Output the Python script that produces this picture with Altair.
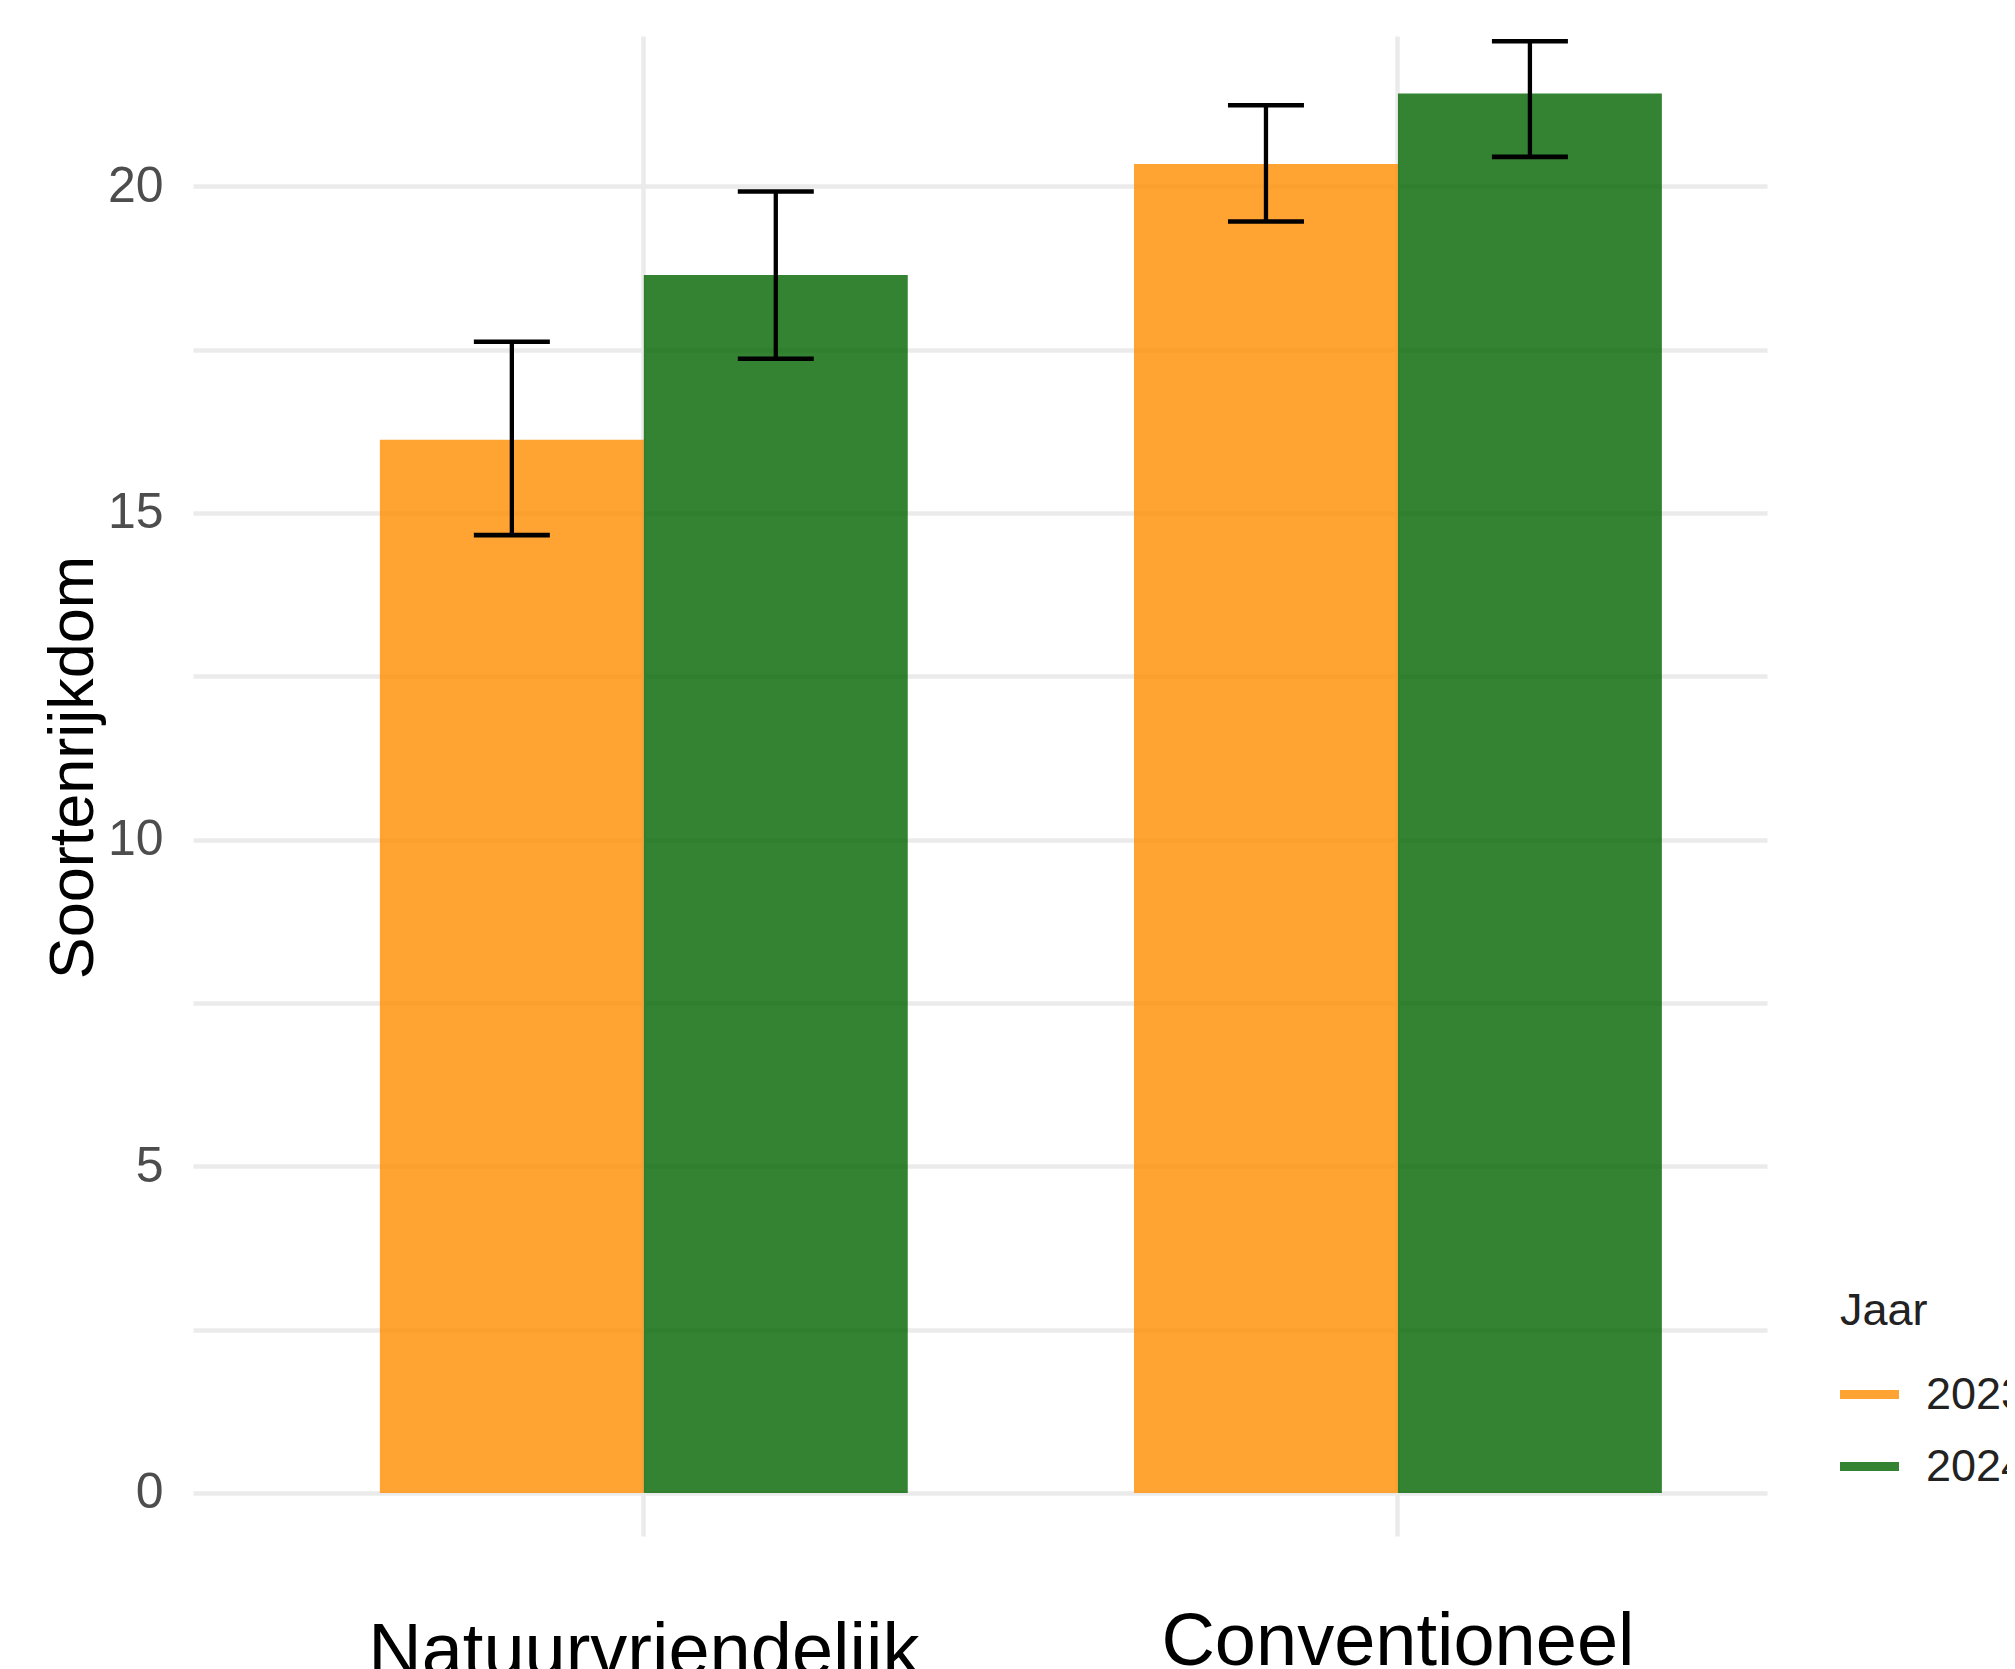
import altair as alt
import pandas as pd

types = ["Natuurvriendelijk", "Conventioneel"]
years = ["2023", "2024"]
mean_2023 = [16.12, 20.34]
mean_2024 = [18.64, 21.42]
lower_2023 = [14.66, 19.46]
lower_2024 = [17.36, 20.45]
upper_2023 = [17.62, 21.24]
upper_2024 = [19.92, 22.22]
colors = ["#FF8C00", "#006400"]

rows = []
for i, t in enumerate(types):
    rows.append(dict(Type=t, Jaar="2023", mean=mean_2023[i], lower=lower_2023[i], upper=upper_2023[i]))
    rows.append(dict(Type=t, Jaar="2024", mean=mean_2024[i], lower=lower_2024[i], upper=upper_2024[i]))
df = pd.DataFrame(rows)

FONT = "Liberation Sans"

x_enc = alt.X(
    "Type:N",
    sort=types,
    scale=alt.Scale(paddingInner=0.3, paddingOuter=0.1936, align=0.64),
    axis=alt.Axis(
        title=None, grid=True, ticks=False, domain=False, labelAngle=0,
        labelFontSize=74, labelColor="black", labelFont=FONT, labelLimit=2000,
        labelOverlap=False,
        labelPadding={"condition": {"test": "datum.value === 'Natuurvriendelijk'", "value": 80}, "value": 70},
        bandPosition=0.5, gridColor="#EBEBEB", gridWidth=4.5,
    ),
)
xo_enc = alt.XOffset("Jaar:N", sort=years, scale=alt.Scale(paddingInner=0, paddingOuter=0))

y_scale = alt.Scale(domain=[-0.66, 22.3], nice=False, zero=False)
y_axis = alt.Axis(
    title="Soortenrijkdom",
    values=[0, 2.5, 5, 7.5, 10, 12.5, 15, 17.5, 20],
    labelExpr="datum.value % 5 === 0 ? datum.label : ''",
    grid=True, gridColor="#EBEBEB", gridWidth=4.5,
    ticks=False, domain=False,
    labelFontSize=50, labelColor="#4D4D4D", labelFont=FONT, labelPadding=30,
    titleFontSize=63, titleColor="black", titleFont=FONT, titleFontWeight="normal",
    titleAngle=270, titleAlign="center", titleBaseline="alphabetic",
    titleX=-101, titleY=731, titleLimit=2000,
)

base = alt.Chart(df)

bars = base.mark_bar(opacity=0.8).encode(
    x=x_enc,
    xOffset=xo_enc,
    y=alt.Y("mean:Q", scale=y_scale, axis=y_axis),
    color=alt.Color(
        "Jaar:N",
        scale=alt.Scale(domain=years, range=colors),
        legend=alt.Legend(
            title="Jaar", orient="none", legendX=1647, legendY=1253,
            titleFontSize=45, titleFont=FONT, titleFontWeight="normal", titleColor="#222222",
            labelFontSize=45, labelFont=FONT, labelColor="#222222",
            symbolType="M-1,-0.15L1,-0.15L1,0.15L-1,0.15Z", symbolSize=3481,
            symbolStrokeWidth=0, labelOffset=27, rowPadding=19, titlePadding=31,
        ),
    ),
)

rules = base.mark_rule(color="black", strokeWidth=4.3).encode(
    x=x_enc, xOffset=xo_enc,
    y=alt.Y("lower:Q", scale=y_scale, axis=y_axis),
    y2="upper:Q",
)
caps_lo = base.mark_tick(color="black", thickness=4.6, size=76, opacity=1).encode(
    x=x_enc, xOffset=xo_enc,
    y=alt.Y("lower:Q", scale=y_scale, axis=y_axis),
)
caps_hi = base.mark_tick(color="black", thickness=4.6, size=76, opacity=1).encode(
    x=x_enc, xOffset=xo_enc,
    y=alt.Y("upper:Q", scale=y_scale, axis=y_axis),
)

chart = (
    alt.layer(bars, rules, caps_lo, caps_hi)
    .properties(
        width=1574, height=1500,
        autosize=alt.AutoSizeParams(type="none"),
        padding={"left": 185, "top": 28, "right": 240, "bottom": 133},
        background="white",
    )
    .configure_view(stroke=None)
)

chart.save("out.html", embed_options={"renderer": "svg", "actions": False})
